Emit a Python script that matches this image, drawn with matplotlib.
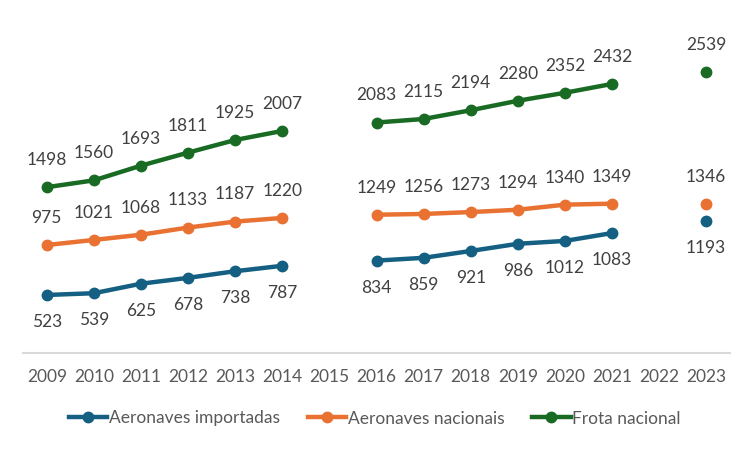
import numpy as np
from matplotlib import pyplot as plt

plt.rcParams['font.family'] = ['Lato', 'DejaVu Sans']

anos = ['2009', '2010', '2011', '2012', '2013', '2014', '2015', '2016',
        '2017', '2018', '2019', '2020', '2021', '2022', '2023']
importadas = [523, 539, 625, 678, 738, 787, np.nan, 834, 859, 921, 986, 1012, 1083, np.nan, 1193]
nacionais = [975, 1021, 1068, 1133, 1187, 1220, np.nan, 1249, 1256, 1273, 1294, 1340, 1349, np.nan, 1346]
frota = [1498, 1560, 1693, 1811, 1925, 2007, np.nan, 2083, 2115, 2194, 2280, 2352, 2432, np.nan, 2539]

fig = plt.figure(figsize=(7.5, 4.5), dpi=100)
ax = fig.add_axes([0.031, 0.216, 0.942, 0.737])
x = np.arange(len(anos))

series = [
    (importadas, '#156082', 'Aeronaves importadas', -1),
    (nacionais, '#E97132', 'Aeronaves nacionais', 1),
    (frota, '#196B24', 'Frota nacional', 1),
]
for vals, cor, nome, lado in series:
    ax.plot(x, vals, color=cor, lw=3.2, marker='o', ms=7.5, label=nome)
    for xi, v in zip(x, vals):
        if np.isnan(v):
            continue
        ax.annotate(str(int(v)), (xi, v), xytext=(0, 19.5 * lado), textcoords='offset points',
                    ha='center', va='center', fontsize=12.5, color='#404040')

ax.set_xlim(-0.5, 14.5)
ax.set_ylim(0, 3000)
ax.set_xticks(x)
ax.set_xticklabels(anos, fontsize=12.5, color='#595959')
ax.tick_params(axis='x', length=0, pad=12)
ax.set_yticks([])
for s in ['top', 'right', 'left']:
    ax.spines[s].set_visible(False)
ax.spines['bottom'].set_color('#D9D9D9')
ax.spines['bottom'].set_linewidth(1.5)

fig.legend(loc='center', bbox_to_anchor=(0.5, 0.07), ncol=3, frameon=False,
           fontsize=12.5, labelcolor='#595959', handlelength=2.2, handletextpad=0.1,
           columnspacing=1.6)

fig.savefig('out.png', dpi=100)
